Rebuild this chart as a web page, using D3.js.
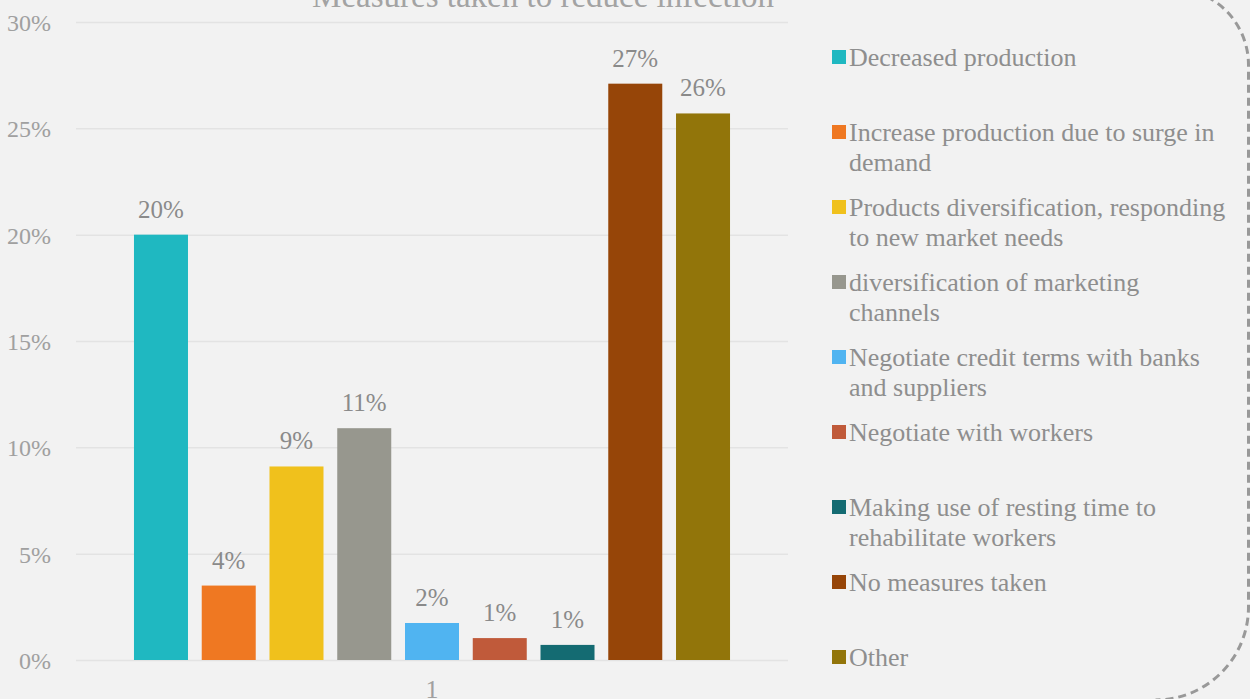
<!DOCTYPE html>
<html>
<head>
<meta charset="utf-8">
<script src="https://cdn.jsdelivr.net/npm/d3@7"></script>
<style>
  body { margin: 0; background: #f2f2f2; }
  svg { display: block; font-family: "Palatino Linotype", "Book Antiqua", Palatino, "Liberation Serif", serif; }
  .grid line { stroke: #e3e3e3; stroke-width: 1.5; }
  .grid .domain { display: none; }
  .yaxis .domain { display: none; }
  .yaxis text { fill: #a0a0a0; font-size: 24px; font-family: "Palatino Linotype", "Book Antiqua", Palatino, "Liberation Serif", serif; }
</style>
</head>
<body>
<div id="chart"></div>
<script>
const title = "Measures taken to reduce infection";
const category = "1";
const series = [
  ["Decreased production"],
  ["Increase production due to surge in", "demand"],
  ["Products diversification, responding", "to new market needs"],
  ["diversification of marketing", "channels"],
  ["Negotiate credit terms with banks", "and suppliers"],
  ["Negotiate with workers"],
  ["Making use of resting time to", "rehabilitate workers"],
  ["No measures taken"],
  ["Other"]
];
const values = [0.200, 0.035, 0.091, 0.109, 0.0174, 0.0103, 0.0071, 0.271, 0.257];
const colors = ["#1fb8c1", "#ef7822", "#f0c11c", "#97978e", "#50b4f1", "#c05a3a", "#146b72", "#964508", "#92750a"];
const yTicks = [0, 0.05, 0.10, 0.15, 0.20, 0.25, 0.30];

const W = 1250, H = 699;
const plot = {left: 76, right: 788, top: 22, bottom: 660};

const svg = d3.select("#chart").append("svg")
    .attr("width", W)
    .attr("height", H);

svg.append("rect").attr("width", W).attr("height", H).attr("fill", "#f2f2f2");

const y = d3.scaleLinear()
    .domain([0, 0.30])
    .range([plot.bottom, plot.top]);

const x0 = d3.scaleBand()
    .domain([category])
    .range([plot.left, plot.right])
    .paddingInner(0)
    .paddingOuter(0.0838);

const x1 = d3.scaleBand()
    .domain(d3.range(series.length))
    .range([0, x0.bandwidth()])
    .paddingInner(0.203)
    .paddingOuter(0.1015);

// gridlines
svg.append("g")
    .attr("class", "grid")
    .attr("transform", "translate(" + plot.left + ",0)")
    .call(d3.axisLeft(y).tickValues(yTicks).tickSize(-(plot.right - plot.left)).tickFormat(""));

// y axis labels
svg.append("g")
    .attr("class", "yaxis")
    .attr("transform", "translate(" + plot.left + ",0)")
    .call(d3.axisLeft(y).tickValues(yTicks).tickSize(0).tickPadding(25).tickFormat(d3.format(".0%")))
    .selectAll("text").attr("dy", "0.35em");

// title (cut off at the top)
svg.append("text")
    .attr("x", 543)
    .attr("y", 7)
    .attr("text-anchor", "middle")
    .attr("fill", "#a3a3a3")
    .style("font-size", "33px")
    .text(title);

const g = svg.append("g").attr("transform", "translate(" + x0(category) + ",0)");

g.selectAll("rect.bar")
    .data(values)
    .join("rect")
    .attr("class", "bar")
    .attr("x", (d, i) => x1(i))
    .attr("width", x1.bandwidth())
    .attr("y", d => y(d))
    .attr("height", d => y(0) - y(d))
    .attr("fill", (d, i) => colors[i]);

g.selectAll("text.lbl")
    .data(values)
    .join("text")
    .attr("class", "lbl")
    .attr("x", (d, i) => x1(i) + x1.bandwidth() / 2)
    .attr("y", d => y(d) - 17)
    .attr("text-anchor", "middle")
    .attr("fill", "#8a8a8a")
    .style("font-size", "25px")
    .text(d => Math.round(d * 100) + "%");

// x category label
svg.append("text")
    .attr("x", x0(category) + x0.bandwidth() / 2)
    .attr("y", 698)
    .attr("text-anchor", "middle")
    .attr("fill", "#a0a0a0")
    .style("font-size", "26px")
    .text(category);

// legend
const legend = svg.append("g").attr("transform", "translate(832,0)");
const item = legend.selectAll("g")
    .data(series)
    .join("g")
    .attr("transform", (d, i) => "translate(0," + (57 + i * 75) + ")");

item.append("rect")
    .attr("x", 0)
    .attr("y", -7)
    .attr("width", 14)
    .attr("height", 14)
    .attr("fill", (d, i) => colors[i]);

item.append("text")
    .attr("fill", "#8e8e8e")
    .style("font-size", "26px")
    .selectAll("tspan")
    .data(d => d)
    .join("tspan")
    .attr("x", 17)
    .attr("y", (d, i) => i * 30)
    .attr("dy", "0.33em")
    .text(d => d);

// dashed rounded border on the right
const bx = 1248.5;
const path = d3.path();
path.moveTo(1000, -12);
path.lineTo(bx - 77, -12);
path.arc(bx - 77, 65, 77, -Math.PI / 2, 0);
path.lineTo(bx, 607);
path.arc(bx - 93, 607, 93, 0, Math.PI / 2);
svg.append("path")
    .attr("d", path.toString())
    .attr("fill", "none")
    .attr("stroke", "#999999")
    .attr("stroke-width", 3)
    .attr("stroke-dasharray", "8,5");
</script>
</body>
</html>
